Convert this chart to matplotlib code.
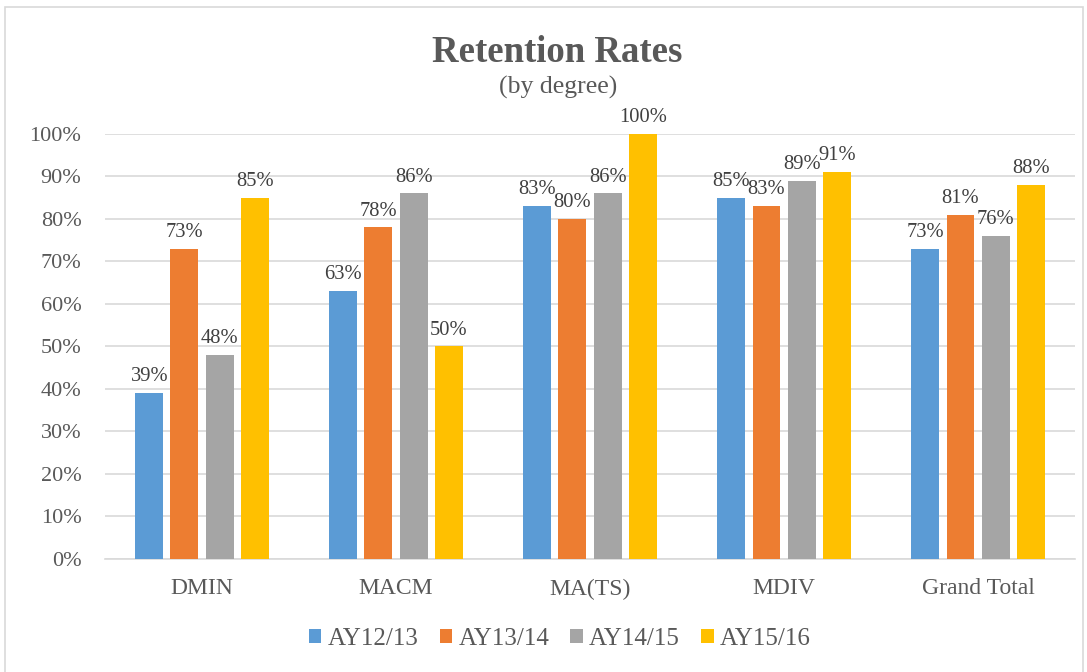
import matplotlib.pyplot as plt
import numpy as np
from matplotlib.patches import Rectangle

categories = ['DMIN', 'MACM', 'MA(TS)', 'MDIV', 'Grand Total']
series_names = ['AY12/13', 'AY13/14', 'AY14/15', 'AY15/16']
ay1213 = [39, 63, 83, 85, 73]
ay1314 = [73, 78, 80, 83, 81]
ay1415 = [48, 86, 86, 89, 76]
ay1516 = [85, 50, 100, 91, 88]
colors = ['#5B9BD5', '#ED7D31', '#A5A5A5', '#FFC000']

plt.rcParams['font.family'] = ['Liberation Serif', 'DejaVu Serif']
txt = '#595959'

fig = plt.figure(figsize=(10.87, 6.72), dpi=100)
ax = fig.add_axes([0.0966, 0.1682, 0.8924, 0.6324])

# chart border
fig.patches.append(Rectangle((5 / 1087, -0.01), 1078 / 1087, 1 - 7 / 672 + 0.01,
                             transform=fig.transFigure, fill=False,
                             edgecolor='#D9D9D9', linewidth=1.2))

x = np.arange(len(categories))
w = 0.144
step = 0.181
for i, vals in enumerate([ay1213, ay1314, ay1415, ay1516]):
    pos = x + (i - 1.5) * step
    bars = ax.bar(pos, vals, width=w, color=colors[i], label=series_names[i], zorder=3)
    for b, v in zip(bars, vals):
        ax.text(b.get_x() + b.get_width() / 2, v + 1.6, f'{v}%', ha='center', va='bottom',
                fontsize=14.8, color='#404040')

ax.set_xlim(-0.5, len(categories) - 0.5)
ax.set_ylim(0, 100)
ax.set_yticks(range(0, 101, 10))
ax.set_yticklabels([f'{t}%' for t in range(0, 101, 10)])
ax.set_xticks(x)
ax.set_xticklabels(categories)
ax.tick_params(axis='y', length=0, labelsize=16, colors=txt, pad=17)
ax.tick_params(axis='x', length=0, labelsize=17, colors=txt, pad=14)
ax.yaxis.grid(True, color='#D9D9D9', linewidth=1.2, zorder=0)
for s in ['top', 'right', 'left']:
    ax.spines[s].set_visible(False)
ax.spines['bottom'].set_color('#D9D9D9')
ax.spines['bottom'].set_linewidth(1.2)

fig.text(0.513, 0.9226, 'Retention Rates', ha='center', va='center', fontsize=26.5,
         fontweight='bold', color=txt)
fig.text(0.513, 0.8705, '(by degree)', ha='center', va='center', fontsize=18.5, color=txt)

leg = fig.legend(loc='center', bbox_to_anchor=(0.515, 0.049), ncol=4, frameon=False,
                 fontsize=18, handlelength=0.5, handleheight=0.5, handletextpad=0.25,
                 columnspacing=0.85)
for t in leg.get_texts():
    t.set_color(txt)

fig.savefig('out.png', dpi=100)
